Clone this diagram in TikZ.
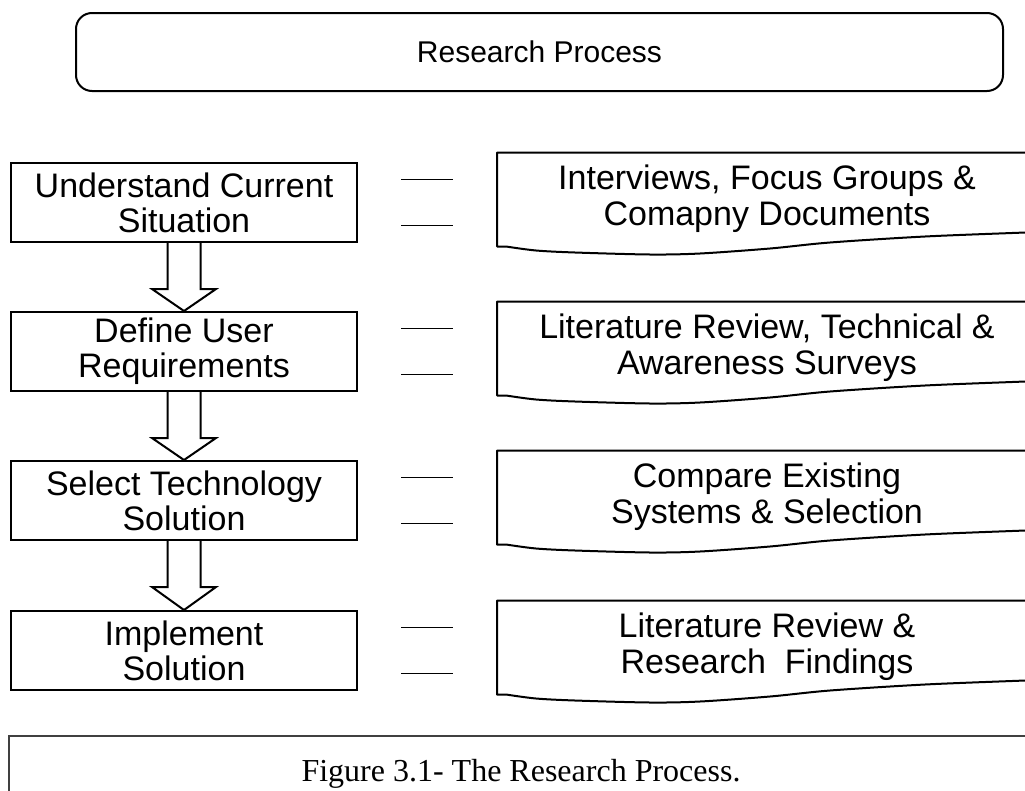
\documentclass[tikz,border=0pt]{standalone}
\usepackage{fontspec}
\setmainfont{Liberation Sans}
\newfontfamily\capfont{Liberation Serif}
\usetikzlibrary{calc}

% wavy-bottomed document outline, centred vertically on #1
\newcommand\docshape[1]{%
  \draw[docline,shift={(0,#1)}] (1045,-50) -- (497,-50) -- (497,44) -- (506,44)
    -- plot[smooth,tension=0.5] coordinates {(506,44) (536,48) (575,50) (650,52) (700,51)
       (770,46) (830,40) (925,34) (1025,30) (1045,29)};}

\begin{document}
\begin{tikzpicture}[x=1pt,y=-1pt,
  stagebox/.style={draw,line width=2pt,minimum width=346pt,minimum height=79pt,
    inner sep=0pt,align=center,font=\fontsize{34}{35}\selectfont},
  doctext/.style={inner sep=0pt,align=center,font=\fontsize{34}{36}\selectfont},
  docline/.style={line width=2pt,line join=round},
  tick/.style={line width=1.5pt},
  blockarrow/.style={draw,line width=2pt,fill=white,line join=miter}]
\useasboundingbox (0,0) rectangle (1025,790);
\clip (0,0) rectangle (1025,790);
\fill[white] (0,0) rectangle (1025,790);

% heading
\node[draw,line width=2pt,rounded corners=16pt,minimum width=927pt,minimum height=78pt,
  inner sep=0pt,font=\fontsize{30}{34}\selectfont] (title) at (539.5,52) {Research Process};

% process stages
\node[stagebox] (s1) at (184,202.5) {Understand Current\\Situation};
\node[stagebox] (s2) at (184,351.5) {Define User\\Requirements};
\node[stagebox] (s3) at (184,500.5) {Select Technology\\Solution};
\node[stagebox] (s4) at (184,650.5) {Implement\\Solution};

% hollow block arrows between stages
\foreach \a/\b in {s1/s2,s2/s3,s3/s4}{
  \draw[blockarrow] ($(\a.south)+(-16.5,0)$) -- ++(0,46) -- ++(-15.5,0) -- (\b.north)
    -- ($(\a.south)+(32,46)$) -- ++(-15.5,0) -- ($(\a.south)+(16.5,0)$);
}

% paired tick lines beside each stage
\foreach \s in {s1,s2,s3,s4}{
  \draw[tick] ($(\s.east)+(43,-23)$) -- ++(52,0);
  \draw[tick] ($(\s.east)+(43,23)$) -- ++(52,0);
}

% supporting activities
\docshape{202.5}
\docshape{351.5}
\docshape{500.5}
\docshape{650.5}
\node[doctext] (d1) at (767,199) {Interviews, Focus Groups \&\\Comapny Documents};
\node[doctext] (d2) at (767,348) {Literature Review, Technical \&\\Awareness Surveys};
\node[doctext] (d3) at (767,497) {Compare Existing\\Systems \& Selection};
\node[doctext] (d4) at (767,647) {Literature Review \&\\Research\ \ Findings};

% caption frame
\draw[line width=1.5pt,black!75] (1045,736) -- (9,736) -- (9,800);
\node[font=\capfont\fontsize{32}{36}\selectfont,anchor=base,inner sep=0pt] (cap) at (521,781)
  {Figure 3.1- The Research Process.};
\end{tikzpicture}
\end{document}
